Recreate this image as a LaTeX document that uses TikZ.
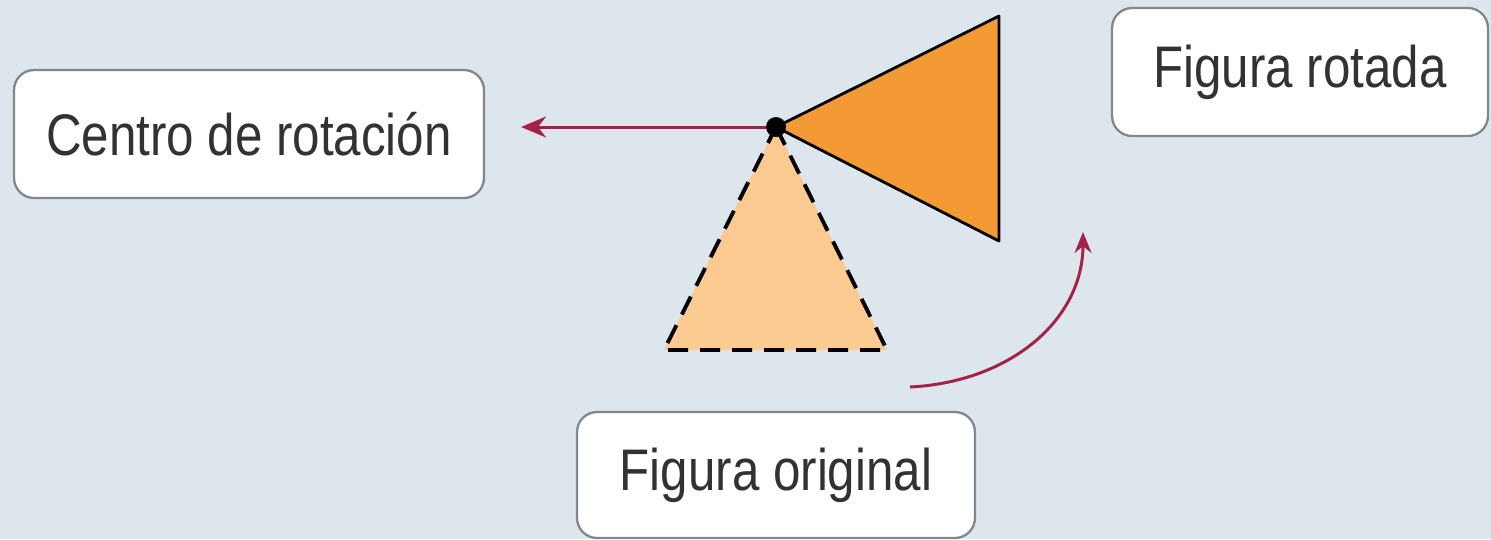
\documentclass[tikz,border=0pt]{standalone}
\usepackage{fontspec}
\newfontfamily\labfont[FakeStretch=0.84]{Liberation Sans}
\usetikzlibrary{arrows.meta}
\definecolor{bgc}{RGB}{222,230,237}
\definecolor{orgdark}{RGB}{243,154,53}
\definecolor{orglight}{RGB}{251,202,145}
\definecolor{arrred}{RGB}{163,35,72}
\definecolor{boxline}{RGB}{128,136,142}
\definecolor{txt}{RGB}{48,50,52}
\tikzset{
  labelbox/.style={draw=boxline, line width=1.3pt, fill=white, rounded corners=0.4cm,
    minimum height=2.56cm, inner sep=0pt, text=txt,
    font=\labfont\fontsize{33.4}{40}\selectfont},
  redarrow/.style={draw=arrred, line width=1.7pt, -{Stealth[length=0.5cm,width=0.42cm]}},
}
\begin{document}
\begin{tikzpicture}[x=0.02cm,y=-0.02cm]
\useasboundingbox[fill=bgc] (0,0) rectangle (1491,539);
% original (dashed) triangle
\fill[orglight] (776,127) -- (887,350) -- (664,350) -- cycle;
\draw[black, line width=2.2pt, dash pattern=on 0.4cm off 0.24cm] (776,127) -- (887,350) -- (664,350) -- cycle;
% rotated triangle
\filldraw[fill=orgdark, draw=black, line width=1.6pt, line join=round] (776,127) -- (999,16) -- (999,241) -- cycle;
% nodes
\node[labelbox, minimum width=9.4cm] (centro) at (249,134) {Centro de rotación};
\node[labelbox, minimum width=7.52cm] (rotada) at (1300,72) {Figura rotada};
\node[labelbox, minimum width=7.96cm, minimum height=2.52cm] (original) at (776,475) {Figura original};
\node[circle, fill=black, inner sep=0pt, minimum size=0.4cm] (c) at (776,127) {};
% arrows
\draw[redarrow, shorten >=0.72cm] (c) -- (c -| centro.east);
\coordinate (arcS) at (910,387);
\coordinate (arcE) at (1083,232);
\draw[redarrow, -{Stealth[length=0.42cm,width=0.34cm]}] (arcS) .. controls (1010,382) and (1083,320) .. (arcE);
\end{tikzpicture}
\end{document}
